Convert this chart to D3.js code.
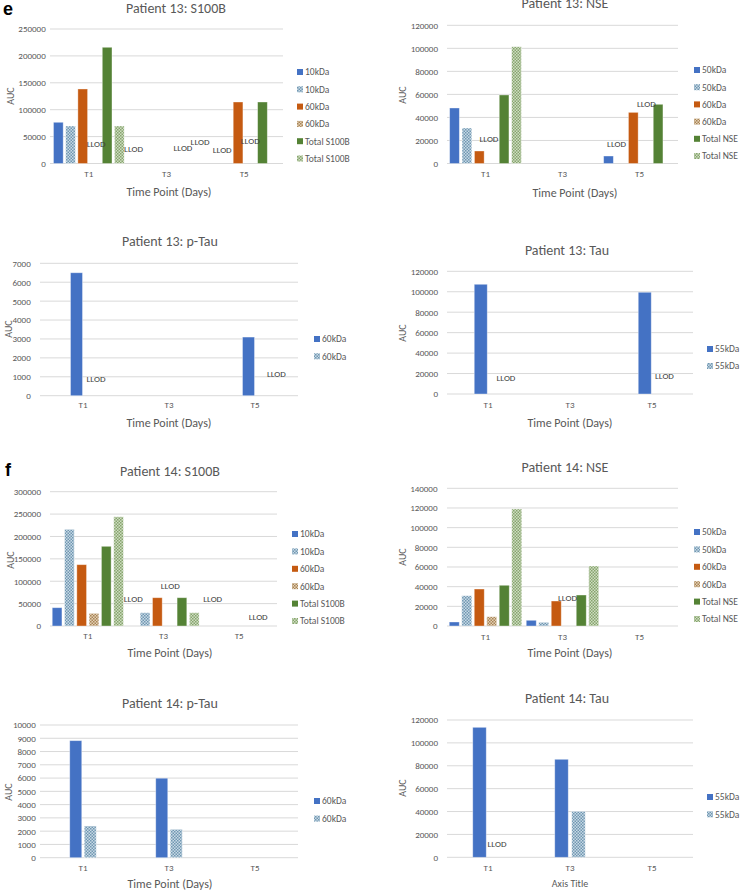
<!DOCTYPE html>
<html><head><meta charset="utf-8">
<script src="https://cdn.jsdelivr.net/npm/d3@7"></script>
<style>
body{margin:0;background:#fff}
svg{display:block;font-family:Carlito,Lato,"Open Sans",sans-serif}
</style>
</head><body>
<svg id="chart" width="740" height="892"></svg>
<script>
// ---------------- DATA ----------------
const timePoints = ["T1", "T3", "T5"];

const s100bSeries = ["10kDa", "10kDa", "60kDa", "60kDa", "Total S100B", "Total S100B"];
const nseSeries   = ["50kDa", "50kDa", "60kDa", "60kDa", "Total NSE", "Total NSE"];
const pTauSeries  = ["60kDa", "60kDa"];
const tauSeries   = ["55kDa", "55kDa"];

// one row per series, values in timePoints order (null = no bar)
const p13S100B = [[76600, null, null], [69700, null, null], [138500, null, 114300], [null, null, null], [216000, null, 114300], [69700, null, null]];
const p13NSE   = [[48200, null, 6500], [30800, null, null], [10850, null, 44400], [null, null, null], [59500, null, 51400], [101400, null, null]];
const p13PTau  = [[6500, null, 3100], [null, null, null]];
const p13Tau   = [[107300, null, 99500], [null, null, null]];

const p14S100B = [[40900, null, null], [216000, 29700, null], [137000, 63200, null], [28300, null, null], [178000, 63200, null], [244000, 29700, null]];
const p14NSE   = [[4070, 5800, null], [30800, 3760, null], [37600, 25400, null], [9460, null, null], [41400, 31500, null], [119000, 61000, null]];
const p14PTau  = [[8820, 5990, null], [2390, 2140, null]];
const p14Tau   = [[113600, 85650, null], [null, 40200, null]];

// "LLOD" labels: [time point, bar slot, AUC level]
const p13S100BLlod = [["T1", 3.1, 36000], ["T3", -0.2, 27000], ["T3", 3.85, 29500], ["T3", 5.25, 40500], ["T5", 0.7, 25000], ["T5", 3.0, 42000]];
const p13NSELlod   = [["T1", 2.78, 21300], ["T5", 0.65, 16900], ["T5", 3.06, 51600]];
const p13PTauLlod  = [["T1", 1.5, 880], ["T5", 2.15, 1150]];
const p13TauLlod   = [["T1", 1.74, 15600], ["T5", 1.36, 17600]];
const p14S100BLlod = [["T3", 0.04, 60300], ["T3", 3.05, 89400], ["T5", 0.35, 60300], ["T5", 4.05, 20100]];
const p14NSELlod   = [["T3", 2.9, 28500]];
const p14PTauLlod  = [];
const p14TauLlod   = [["T1", 1.03, 11600]];

const yMaxes  = [250000, 120000, 7000, 120000, 300000, 140000, 10000, 120000];
const yStepsV = [50000, 20000, 1000, 20000, 50000, 20000, 1000, 20000];
const titles  = ["Patient 13: S100B", "Patient 13: NSE", "Patient 13: p-Tau", "Patient 13: Tau",
                 "Patient 14: S100B", "Patient 14: NSE", "Patient 14: p-Tau", "Patient 14: Tau"];
const xTitles = ["Time Point (Days)", "Time Point (Days)", "Time Point (Days)", "Time Point (Days)",
                 "Time Point (Days)", "Time Point (Days)", "Time Point (Days)", "Axis Title"];

// ---------------- STYLE / LAYOUT ----------------
const sixStyles = ["blue", "blueHatch", "orange", "orangeHatch", "green", "greenHatch"];
const twoStyles = ["blue", "blueHatch"];

const layout = [
  {l:50,  r:283, t:29,    b:163.5, step:12.2, w:9.7,  gap:4.3, tx:176, ty:13,  tick:179, xt:[169,196], auc:[10,96],   leg:[300,72,17.3]},
  {l:447, r:678, t:25.3,  b:163.5, step:12.4, w:9.7,  gap:9,   tx:565, ty:8,   tick:179, xt:[575,197], auc:[402,95],  leg:[697,70,17.2]},
  {l:40,  r:298, t:263.3, b:395.7, step:13,   w:12,   gap:9.3, tx:170, ty:246, tick:410, xt:[169,427], auc:[8,329],   leg:[317,339,17.3]},
  {l:447, r:693, t:271.3, b:394,   step:14.5, w:13,   gap:9,   tx:567, ty:255, tick:410, xt:[570,427], auc:[402,333], leg:[710,349,17]},
  {l:50,  r:277, t:491.7, b:626,   step:12.3, w:9.7,  gap:9,   tx:170, ty:476, tick:641, xt:[170,657], auc:[10,560],  leg:[295,534,17.4]},
  {l:447, r:678, t:488.3, b:626,   step:12.5, w:10,   gap:9.5, tx:565, ty:472, tick:642, xt:[570,657], auc:[402,557], leg:[697,532,17.4]},
  {l:40,  r:298, t:725,   b:857.7, step:14.5, w:12,   gap:4.3, tx:170, ty:708, tick:873, xt:[170,888], auc:[8,792],   leg:[317,801,17.6]},
  {l:447, r:693, t:720,   b:857.3, step:17,   w:13.5, gap:9,   tx:567, ty:703, tick:873, xt:[570,887], auc:[402,788], leg:[710,797,17.3]}
];

const panelData = [
  [p13S100B, s100bSeries, sixStyles, p13S100BLlod],
  [p13NSE,   nseSeries,   sixStyles, p13NSELlod],
  [p13PTau,  pTauSeries,  twoStyles, p13PTauLlod],
  [p13Tau,   tauSeries,   twoStyles, p13TauLlod],
  [p14S100B, s100bSeries, sixStyles, p14S100BLlod],
  [p14NSE,   nseSeries,   sixStyles, p14NSELlod],
  [p14PTau,  pTauSeries,  twoStyles, p14PTauLlod],
  [p14Tau,   tauSeries,   twoStyles, p14TauLlod]
];

const svg = d3.select("#chart");
const defs = svg.append("defs");
function checker(id, bg, fg) {
  const p = defs.append("pattern").attr("id", id).attr("patternUnits", "userSpaceOnUse")
    .attr("width", 3).attr("height", 3);
  p.append("rect").attr("width", 3).attr("height", 3).attr("fill", bg);
  p.append("rect").attr("width", 1.5).attr("height", 1.5).attr("fill", fg);
  p.append("rect").attr("x", 1.5).attr("y", 1.5).attr("width", 1.5).attr("height", 1.5).attr("fill", fg);
}
checker("hBlue", "#c8d9e5", "#7097b1");
checker("hOrange", "#e3d0b6", "#a88455");
checker("hGreen", "#cfdcc2", "#86a56d");
const fills = {
  blue: "#4472C4", orange: "#C55A11", green: "#548235",
  blueHatch: "url(#hBlue)", orangeHatch: "url(#hOrange)", greenHatch: "url(#hGreen)"
};
const textCol = "#595959";

panelData.forEach(([vals, names, styles, llod], k) => {
  const L = layout[k];
  const g = svg.append("g");
  const x = d3.scaleBand().domain(timePoints).range([L.l, L.r]).padding(0);
  const y = d3.scaleLinear().domain([0, yMaxes[k]]).range([L.b, L.t]);
  const ticks = d3.range(0, yMaxes[k] + 1, yStepsV[k]);
  const n = names.length;
  const slotX = (t, s) => x(t) + x.bandwidth() / 2 - n * L.step / 2 + (s + 0.5) * L.step;

  // gridlines
  g.append("g").selectAll("line").data(ticks).join("line")
    .attr("x1", L.l).attr("x2", L.r)
    .attr("y1", d => y(d)).attr("y2", d => y(d))
    .attr("stroke", "#d9d9d9").attr("stroke-width", 1);

  // y axis labels
  const ya = g.append("g").attr("transform", `translate(${L.l - L.gap},0)`)
    .call(d3.axisLeft(y).tickValues(ticks).tickSize(0).tickPadding(0).tickFormat(d3.format("d")));
  ya.select(".domain").remove();
  ya.selectAll("text").attr("fill", textCol).style("font-size", "9px").style("font-family", "Carlito,Lato,sans-serif");

  // x axis labels
  const xa = g.append("g").attr("transform", `translate(0,${L.tick - 8})`)
    .call(d3.axisBottom(x).tickSize(0).tickPadding(0));
  xa.select(".domain").remove();
  xa.selectAll("text").attr("fill", textCol).attr("dy", "0.71em").style("font-size", "9px").style("font-family", "Carlito,Lato,sans-serif");

  // bars
  vals.forEach((row, si) => {
    const bars = timePoints.map((t, ti) => ({t, v: row[ti]})).filter(d => d.v != null);
    g.append("g").selectAll("rect").data(bars).join("rect")
      .attr("x", d => slotX(d.t, si) - L.w / 2)
      .attr("width", L.w)
      .attr("y", d => y(d.v))
      .attr("height", d => y(0) - y(d.v))
      .attr("fill", fills[styles[si]])
      .attr("stroke", "#ffffff").attr("stroke-opacity", 0.45).attr("stroke-width", 0.8);
  });

  // LLOD labels
  g.append("g").selectAll("text").data(llod).join("text")
    .attr("x", d => slotX(d[0], d[1]))
    .attr("y", d => y(d[2]))
    .attr("dy", "0.35em")
    .attr("text-anchor", "middle")
    .attr("fill", "#404040").style("font-size", "9px")
    .text("LLOD");

  // title
  g.append("text").attr("x", L.tx).attr("y", L.ty).attr("text-anchor", "middle")
    .attr("fill", textCol).style("font-size", "14px").text(titles[k]);

  // x title
  g.append("text").attr("x", L.xt[0]).attr("y", L.xt[1]).attr("text-anchor", "middle")
    .attr("fill", textCol).style("font-size", k === 7 ? "10px" : "12px").text(xTitles[k]);

  // y title
  g.append("text").attr("transform", `translate(${L.auc[0]},${L.auc[1]}) rotate(-90)`)
    .attr("text-anchor", "middle").attr("dy", "0.35em")
    .attr("fill", textCol).style("font-size", "10px").text("AUC");

  // legend
  const lg = g.append("g");
  names.forEach((nm, i) => {
    const yy = L.leg[1] + i * L.leg[2];
    lg.append("rect").attr("x", L.leg[0] - 3).attr("y", yy - 3).attr("width", 6).attr("height", 6)
      .attr("fill", fills[styles[i]]);
    lg.append("text").attr("x", L.leg[0] + 5).attr("y", yy).attr("dy", "0.35em")
      .attr("fill", textCol).style("font-size", "9.5px").text(nm);
  });
});

// panel letters
svg.append("text").attr("x", 3).attr("y", 15).attr("fill", "#000")
  .style("font-family", "'Liberation Sans',Arial,sans-serif").style("font-weight", "bold").style("font-size", "18px").text("e");
svg.append("text").attr("x", 5).attr("y", 476).attr("fill", "#000")
  .style("font-family", "'Liberation Sans',Arial,sans-serif").style("font-weight", "bold").style("font-size", "18px").text("f");
</script>
</body></html>
